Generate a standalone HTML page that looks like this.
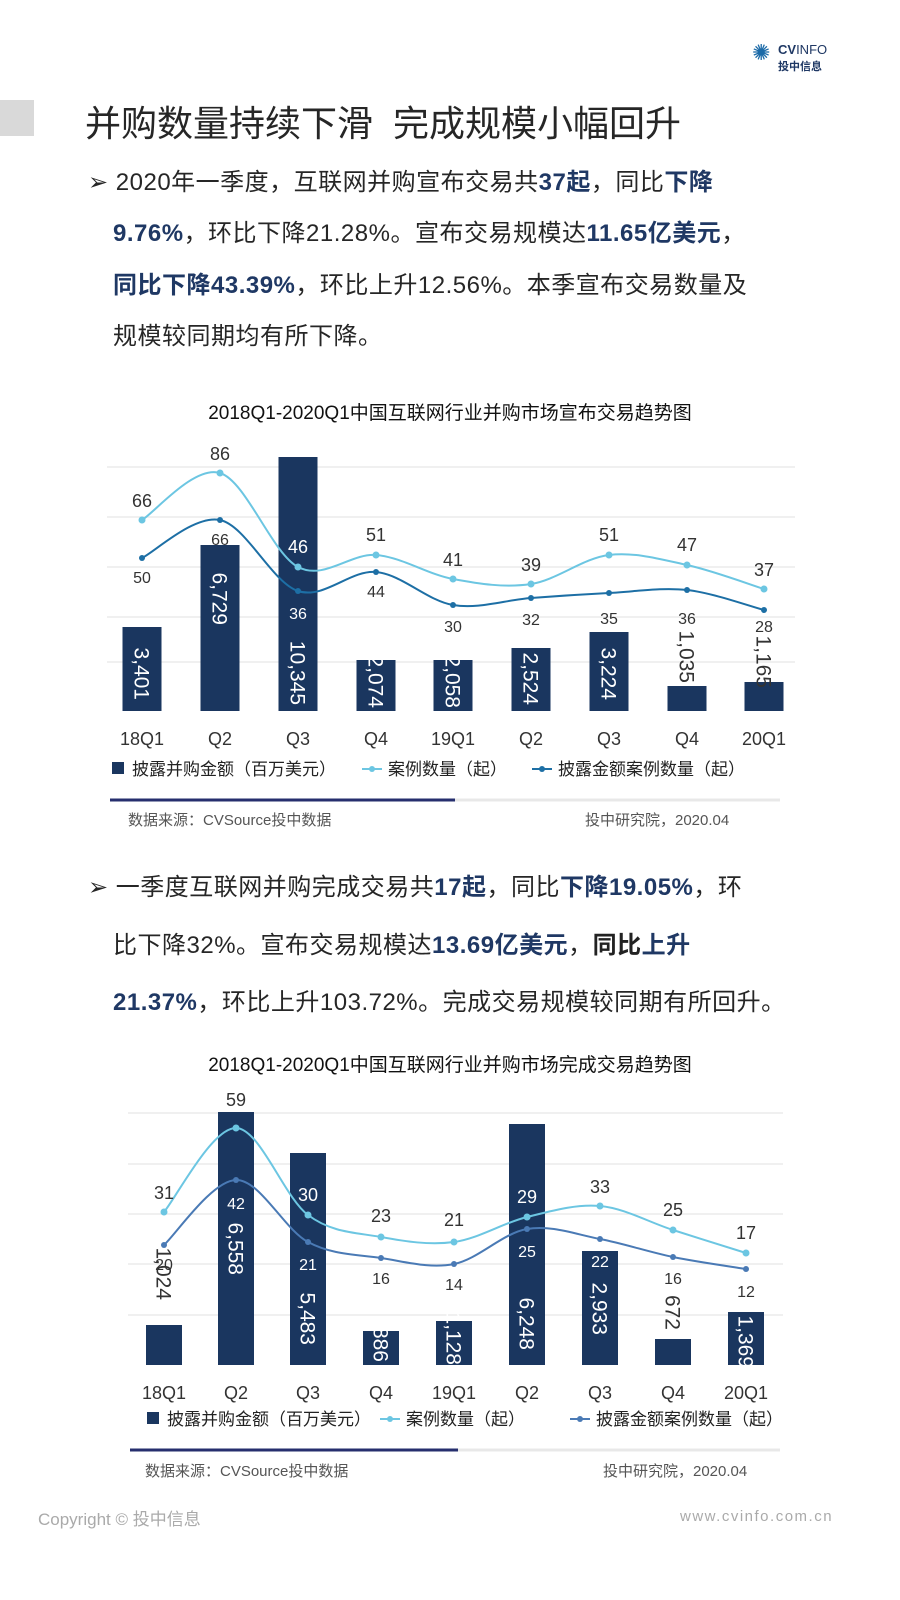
<!DOCTYPE html>
<html><head><meta charset="utf-8">
<style>
body{margin:0;background:#fff;}
#p{position:relative;width:900px;height:1600px;overflow:hidden;font-family:"Liberation Sans","Noto Sans CJK SC",sans-serif;color:#222;}
.t{position:absolute;white-space:nowrap;}
.para{font-size:24px;color:#262626;letter-spacing:0.5px;}
.b{color:#1f3864;font-weight:bold;}
</style></head><body><div id="p">
<div style="position:absolute;left:0;top:100px;width:34px;height:36px;background:#d9d9d9"></div>
<div class="t" style="left:85px;top:95px;font-size:36px;color:#262626">并购数量持续下滑&nbsp; 完成规模小幅回升</div>
<div class="t" style="left:752px;top:40px;font-size:22px;color:#1b6aa8">✺</div>
<div class="t" style="left:778px;top:42px;font-size:13px;color:#1f3864;font-weight:bold">CV<span style="font-weight:normal">INFO</span></div>
<div class="t" style="left:778px;top:58px;font-size:11px;color:#1f3864;font-weight:bold">投中信息</div>

<div class="t para" style="left:88px;top:162px">➢ 2020年一季度，互联网并购宣布交易共<span class="b">37起</span>，同比<span class="b">下降</span></div>
<div class="t para" style="left:113px;top:213px"><span class="b">9.76%</span>，环比下降21.28%。宣布交易规模达<span class="b">11.65亿美元</span>，</div>
<div class="t para" style="left:113px;top:265px"><span class="b">同比下降43.39%</span>，环比上升12.56%。本季宣布交易数量及</div>
<div class="t para" style="left:113px;top:316px">规模较同期均有所下降。</div>

<div class="t" style="left:0;width:900px;text-align:center;top:398px;font-size:19px;color:#111">2018Q1-2020Q1中国互联网行业并购市场宣布交易趋势图</div>

<div class="t para" style="left:88px;top:867px">➢ 一季度互联网并购完成交易共<span class="b">17起</span>，同比<span class="b">下降19.05%</span>，环</div>
<div class="t para" style="left:113px;top:925px">比下降32%。宣布交易规模达<span class="b">13.69亿美元</span>，<span class="b" style="color:#222">同比</span><span class="b">上升</span></div>
<div class="t para" style="left:113px;top:982px"><span class="b">21.37%</span>，环比上升103.72%。完成交易规模较同期有所回升。</div>

<div class="t" style="left:0;width:900px;text-align:center;top:1050px;font-size:19px;color:#111">2018Q1-2020Q1中国互联网行业并购市场完成交易趋势图</div>

<svg id="s" width="900" height="1600" style="position:absolute;left:0;top:0" font-family="Liberation Sans, Noto Sans CJK SC, sans-serif"></svg>

<div class="t" style="left:128px;top:809px;font-size:15px;color:#555">数据来源：CVSource投中数据</div>
<div class="t" style="left:585px;top:809px;font-size:15px;color:#555">投中研究院，2020.04</div>
<div class="t" style="left:145px;top:1460px;font-size:15px;color:#555">数据来源：CVSource投中数据</div>
<div class="t" style="left:603px;top:1460px;font-size:15px;color:#555">投中研究院，2020.04</div>
<div class="t" style="left:38px;top:1505px;font-size:17px;color:#aaa">Copyright © 投中信息</div>
<div class="t" style="left:680px;top:1508px;font-size:15px;color:#aaa;letter-spacing:1.5px">www.cvinfo.com.cn</div>
</div>
<script>
var s=document.getElementById('s'),h='';
function path(xs,ys){var d='M'+xs[0]+','+ys[0];for(var i=0;i<xs.length-1;i++){var x0=xs[Math.max(i-1,0)],y0=ys[Math.max(i-1,0)],x3=xs[Math.min(i+2,xs.length-1)],y3=ys[Math.min(i+2,xs.length-1)];var c1x=xs[i]+(xs[i+1]-x0)/6,c1y=ys[i]+(ys[i+1]-y0)/6,c2x=xs[i+1]-(x3-xs[i])/6,c2y=ys[i+1]-(y3-ys[i])/6;d+=' C'+c1x+','+c1y+' '+c2x+','+c2y+' '+xs[i+1]+','+ys[i+1];}return d;}
function chart(o){
 o.grid.forEach(function(y){h+='<line x1="'+o.gx0+'" x2="'+o.gx1+'" y1="'+y+'" y2="'+y+'" stroke="#e6e6e6" stroke-width="1.3"/>';});
 o.cx.forEach(function(c,i){h+='<rect x="'+(c-o.bw/2)+'" y="'+o.top[i]+'" width="'+o.bw+'" height="'+(o.base-o.top[i])+'" fill="#1a365f"/>';});
 h+='<path d="'+path(o.cx,o.ly)+'" fill="none" stroke="#6cc6e2" stroke-width="2"/>';
 h+='<path d="'+path(o.cx,o.dy)+'" fill="none" stroke="'+o.dc+'" stroke-width="2"/>';
 o.cx.forEach(function(c,i){
  h+='<text transform="translate('+(c-7.5)+','+o.ve[i]+') rotate(90)" font-size="21" fill="'+o.vc[i]+'" text-anchor="end">'+o.v[i]+'</text>';
  h+='<text x="'+c+'" y="'+(o.base+34)+'" font-size="18" fill="#333" text-anchor="middle">'+o.lab[i]+'</text>';
  h+='<circle cx="'+c+'" cy="'+o.ly[i]+'" r="3.5" fill="#6cc6e2"/><circle cx="'+c+'" cy="'+o.dy[i]+'" r="3" fill="'+o.dc+'"/>';
  h+='<text x="'+c+'" y="'+o.lly[i]+'" font-size="18" fill="'+o.llc[i]+'" text-anchor="middle">'+o.ln[i]+'</text>';
  h+='<text x="'+c+'" y="'+o.dly[i]+'" font-size="16" fill="'+o.dlc[i]+'" text-anchor="middle">'+o.dn[i]+'</text>';});
 var ly=o.legy;
 h+='<rect x="'+o.lg[0]+'" y="'+(ly-13)+'" width="12" height="12" fill="#1a365f"/><text x="'+(o.lg[0]+20)+'" y="'+ly+'" font-size="17" fill="#222">披露并购金额（百万美元）</text>';
 h+='<line x1="'+o.lg[1]+'" x2="'+(o.lg[1]+20)+'" y1="'+(ly-6)+'" y2="'+(ly-6)+'" stroke="#6cc6e2" stroke-width="2"/><circle cx="'+(o.lg[1]+10)+'" cy="'+(ly-6)+'" r="3" fill="#6cc6e2"/><text x="'+(o.lg[1]+26)+'" y="'+ly+'" font-size="17" fill="#222">案例数量（起）</text>';
 h+='<line x1="'+o.lg[2]+'" x2="'+(o.lg[2]+20)+'" y1="'+(ly-6)+'" y2="'+(ly-6)+'" stroke="'+o.dc+'" stroke-width="2"/><circle cx="'+(o.lg[2]+10)+'" cy="'+(ly-6)+'" r="3" fill="'+o.dc+'"/><text x="'+(o.lg[2]+26)+'" y="'+ly+'" font-size="17" fill="#222">披露金额案例数量（起）</text>';
 h+='<line x1="'+o.div[0]+'" x2="'+o.div[2]+'" y1="'+o.div[3]+'" y2="'+o.div[3]+'" stroke="#e8e8e8" stroke-width="3"/><line x1="'+o.div[0]+'" x2="'+o.div[1]+'" y1="'+o.div[3]+'" y2="'+o.div[3]+'" stroke="#262f6e" stroke-width="3"/>';
}
var W='#fff',K='#333';
chart({gx0:107,gx1:795,grid:[467,517,567,617,662],base:711,bw:39,
 cx:[142,220,298,376,453,531,609,687,764],top:[627,545,457,660,660,648,632,686,682],
 v:['3,401','6,729','10,345','2,074','2,058','2,524','3,224','1,035','1,165'],
 ve:[700,625,705,708,708,705,700,683,688],vc:[W,W,W,W,W,W,W,K,K],
 ly:[520,473,567,555,579,584,555,565,589],dy:[558,520,591,572,605,598,593,590,610],
 ln:[66,86,46,51,41,39,51,47,37],lly:[507,460,553,541,566,571,541,551,576],llc:[K,K,W,K,K,K,K,K,K],
 dn:[50,66,36,44,30,32,35,36,28],dly:[583,545,619,597,632,625,624,624,632],dlc:[K,K,W,K,K,K,K,K,K],
 lab:['18Q1','Q2','Q3','Q4','19Q1','Q2','Q3','Q4','20Q1'],dc:'#1d6fa5',legy:775,lg:[112,362,532],div:[110,455,780,800]});
chart({gx0:128,gx1:783,grid:[1113,1164,1214,1264,1315],base:1365,bw:36,
 cx:[164,236,308,381,454,527,600,673,746],top:[1325,1112,1153,1331,1321,1124,1251,1339,1312],
 v:['1,024','6,558','5,483','886','1,128','6,248','2,933','672','1,369'],
 ve:[1300,1275,1345,1362,1365,1350,1335,1330,1368],vc:[K,W,W,W,W,W,W,K,W],
 ly:[1212,1128,1215,1237,1242,1217,1206,1230,1253],dy:[1245,1180,1242,1258,1264,1229,1239,1257,1269],
 ln:[31,59,30,23,21,29,33,25,17],lly:[1199,1106,1201,1222,1226,1203,1193,1216,1239],llc:[K,K,W,K,K,W,K,K,K],
 dn:[20,42,21,16,14,25,22,16,12],dly:[1270,1209,1270,1284,1290,1257,1267,1284,1297],dlc:[K,W,W,K,K,W,W,K,K],
 lab:['18Q1','Q2','Q3','Q4','19Q1','Q2','Q3','Q4','20Q1'],dc:'#4a7ab5',legy:1425,lg:[147,380,570],div:[130,458,780,1450]});
s.innerHTML=h;
</script>
</body></html>
